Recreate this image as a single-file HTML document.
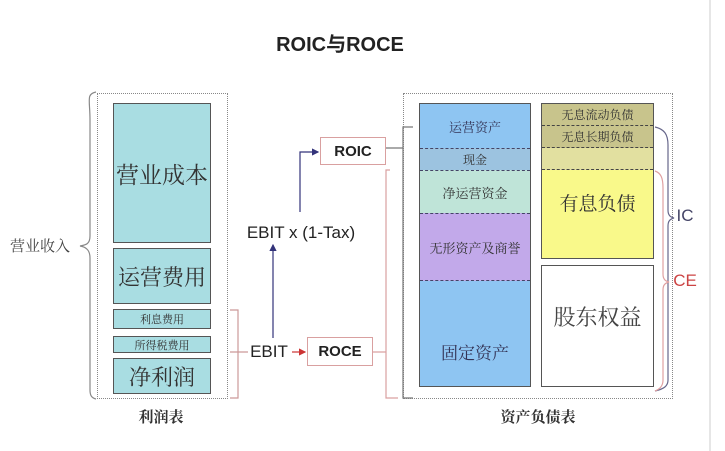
<!DOCTYPE html>
<html><head><meta charset="utf-8"><style>
body{margin:0;background:#fff;}
#c{position:relative;width:725px;height:451px;overflow:hidden;font-family:"Liberation Sans","Noto Sans CJK SC",sans-serif;}
.a{position:absolute;box-sizing:border-box;display:flex;align-items:center;justify-content:center;white-space:nowrap;}
.t{border:1.5px solid #555;background:#a9dde2;color:#333;}
.s{font-family:"Liberation Serif","Noto Serif CJK SC",serif;}
</style></head><body><div id="c">
<div class="a" style="left:0;top:26px;width:680px;height:32px;font-size:20px;font-weight:bold;color:#222;">ROIC与ROCE</div>

<div class="a" style="left:97px;top:93px;width:131px;height:306px;border:1.5px dotted #888;"></div>
<div class="a t s" style="left:113px;top:103px;width:98px;height:140px;font-size:23px;">营业成本</div>
<div class="a t s" style="left:113px;top:248px;width:98px;height:56px;font-size:22px;">运营费用</div>
<div class="a t s" style="left:113px;top:309px;width:98px;height:20px;font-size:11px;">利息费用</div>
<div class="a t s" style="left:113px;top:336px;width:98px;height:17px;font-size:11px;">所得税费用</div>
<div class="a t s" style="left:113px;top:358px;width:98px;height:36px;font-size:22px;">净利润</div>
<div class="a s" style="left:96px;top:404px;width:130px;height:24px;font-size:15px;font-weight:bold;color:#333;">利润表</div>
<div class="a s" style="left:2px;top:233px;width:76px;height:24px;font-size:15px;color:#444;">营业收入</div>

<div class="a" style="left:403px;top:93px;width:270px;height:306px;border:1.5px dotted #888;"></div>
<div class="a" style="left:419px;top:103px;width:112px;height:284px;background:#8ec5f2;border:1.5px solid #555;"></div>
<div class="a s" style="left:420px;top:104px;width:110px;height:44px;font-size:13px;color:#335;">运营资产</div>
<div class="a s" style="left:420px;top:148px;width:110px;height:22px;background:#9cc3e0;border-top:1.5px dashed #446;font-size:12px;color:#333;">现金</div>
<div class="a s" style="left:420px;top:170px;width:110px;height:43px;background:#bfe4d8;border-top:1.5px dashed #446;font-size:13px;color:#333;">净运营资金</div>
<div class="a s" style="left:420px;top:213px;width:110px;height:68px;background:#c2a9ea;border-top:1.5px dashed #446;border-bottom:1.5px dashed #446;font-size:13px;color:#333;">无形资产及商誉</div>
<div class="a s" style="left:420px;top:281px;width:110px;height:105px;font-size:17px;color:#335;padding-top:36px;">固定资产</div>

<div class="a" style="left:541px;top:103px;width:113px;height:156px;background:#f9f98a;border:1.5px solid #555;"></div>
<div class="a s" style="left:542px;top:104px;width:111px;height:22px;background:#c8c48c;border-bottom:1.5px dashed #444;font-size:12px;color:#333;">无息流动负债</div>
<div class="a s" style="left:542px;top:126px;width:111px;height:22px;background:#c8c48c;border-bottom:1.5px dashed #444;font-size:12px;color:#333;">无息长期负债</div>
<div class="a" style="left:542px;top:148px;width:111px;height:22px;background:#e2e0a0;border-bottom:1.5px dashed #444;"></div>
<div class="a s" style="left:542px;top:170px;width:111px;height:65px;font-size:19px;color:#333;">有息负债</div>
<div class="a s" style="left:541px;top:265px;width:113px;height:122px;background:#fff;border:1.5px solid #555;font-size:22px;color:#444;padding-bottom:20px;">股东权益</div>
<div class="a s" style="left:403px;top:404px;width:270px;height:24px;font-size:15px;font-weight:bold;color:#333;">资产负债表</div>

<div class="a" style="left:320px;top:137px;width:66px;height:28px;border:1.5px solid #d9a0a0;font-size:15px;font-weight:bold;color:#222;">ROIC</div>
<div class="a" style="left:307px;top:337px;width:66px;height:29px;border:1.5px solid #d9a0a0;font-size:15px;font-weight:bold;color:#222;">ROCE</div>
<div class="a" style="left:234px;top:220px;width:134px;height:26px;font-size:17px;color:#222;">EBIT x (1-Tax)</div>
<div class="a" style="left:246px;top:340px;width:46px;height:24px;font-size:17px;color:#222;">EBIT</div>
<div class="a" style="left:673px;top:205px;width:24px;height:22px;font-size:17px;color:#446;">IC</div>
<div class="a" style="left:670px;top:270px;width:30px;height:22px;font-size:17px;color:#c44;">CE</div>

<svg width="725" height="451" style="position:absolute;left:0;top:0">
<defs><marker id="m" markerWidth="6" markerHeight="6" refX="5" refY="3" orient="auto"><path d="M0,0L6,3L0,6z" fill="#33337a"/></marker>
<marker id="r" markerWidth="6" markerHeight="6" refX="5" refY="3" orient="auto"><path d="M0,0L6,3L0,6z" fill="#c33"/></marker></defs>
<path d="M96,92 C86,94 90,100 90,120 L90,236 C90,244 86,245 80,246 C86,247 90,250 90,258 L90,390 C90,396 92,398 96,399" fill="none" stroke="#888" stroke-width="1.2"/>
<path d="M230,310H238V398H230M230,352H248" fill="none" stroke="#c99" stroke-width="1.2"/>
<path d="M292,352H305" stroke="#c33" stroke-width="1.2" marker-end="url(#r)"/>
<path d="M273,338V245" stroke="#33337a" stroke-width="1.2" marker-end="url(#m)"/>
<path d="M300,212V152H318" fill="none" stroke="#33337a" stroke-width="1.2" marker-end="url(#m)"/>
<path d="M386,148H403M413,127H403V398H413" fill="none" stroke="#777" stroke-width="1.2"/>
<path d="M373,352H386M390,170H386V398H398" fill="none" stroke="#d9a0a0" stroke-width="1.2"/>
<path d="M655,127 C664,129 668,134 668,145 L668,210 C668,215 670,217 674,218 C670,219 668,221 668,226 L668,380 C668,386 664,389 655,391" fill="none" stroke="#66668a" stroke-width="1.2"/>
<path d="M655,171 C661,173 663,178 663,188 L663,274 C663,279 665,281 669,282 C665,283 663,285 663,290 L663,380 C663,386 660,389 655,391" fill="none" stroke="#e0a0a0" stroke-width="1.2"/>
<path d="M710,0V451" stroke="#ccc" stroke-width="1"/>
</svg>
</div></body></html>
